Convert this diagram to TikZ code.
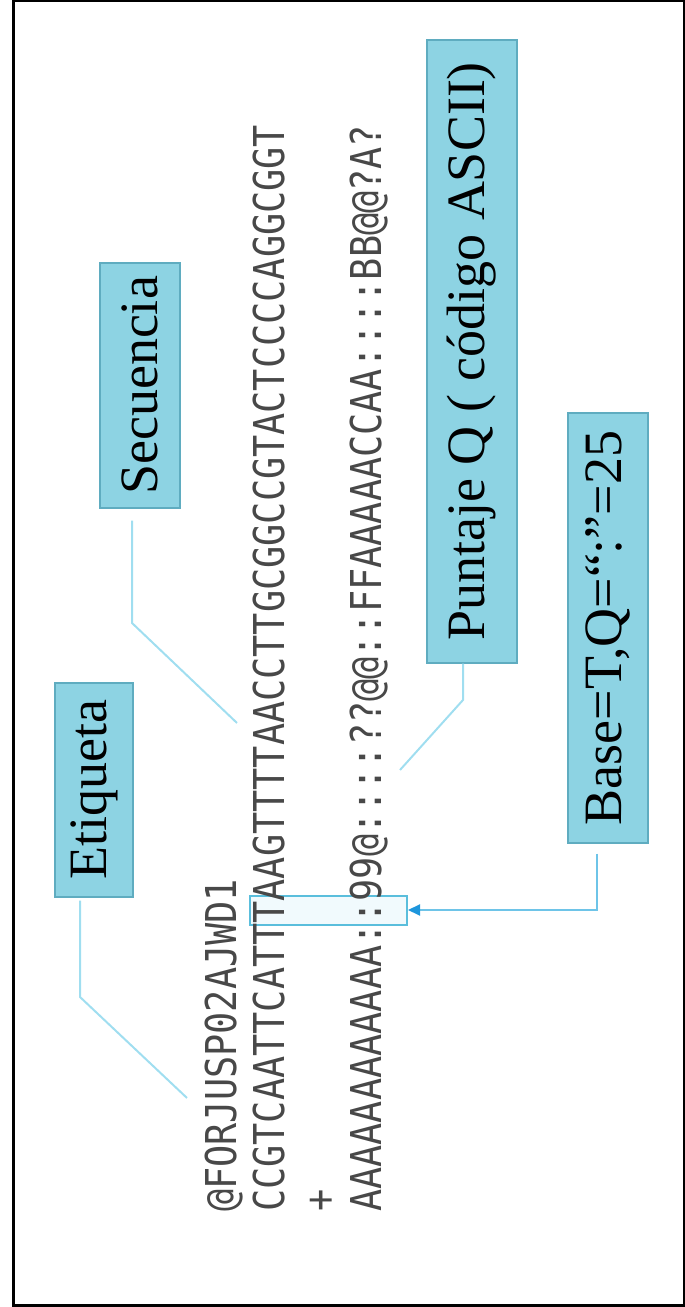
\documentclass[tikz,border=0pt]{standalone}
\usepackage{fontspec}
\setmainfont{Liberation Serif}
\newfontfamily\seqfont{DejaVu Sans Mono}
\usetikzlibrary{calc,arrows.meta}
\definecolor{boxfill}{RGB}{141,211,227}
\definecolor{boxline}{RGB}{95,172,192}
\definecolor{linkcol}{RGB}{160,222,240}
\definecolor{arrowcol}{RGB}{110,196,232}
\definecolor{tipcol}{RGB}{30,150,220}
\definecolor{seqcol}{RGB}{72,72,72}
\definecolor{hlline}{RGB}{90,190,220}
\definecolor{hlfill}{RGB}{215,242,250}
\tikzset{
  labelbox/.style={draw=boxline, line width=1.5pt, fill=boxfill, rotate=90, inner sep=0pt,
    font=\fontsize{54}{60}\selectfont, text=black},
  seqline/.style={rotate=90, anchor=base west, inner sep=0pt, text=seqcol,
    font=\seqfont\fontsize{42.5}{50}\selectfont},
  link/.style={draw=linkcol, line width=2pt},
  arrowlink/.style={draw=arrowcol, line width=2pt, -{Triangle[length=12pt,width=11pt,color=tipcol]}}
}
\newcommand{\sq}[1]{\scalebox{0.867}[1]{#1}}
\begin{document}
\begin{tikzpicture}[x=1pt,y=1pt]
\useasboundingbox (0,0) rectangle (685,1307);
\draw[line width=3pt] (13,1) rectangle (684,1306);
% highlight
\node[draw=hlline, line width=2pt, fill=hlfill, fill opacity=0.35, minimum width=157pt, minimum height=29pt, inner sep=0pt] (hl) at (328.5,396) {};
% sequence lines
\node[seqline] (l1) at (236,95) {\sq{@FORJUSP02AJWD1}};
\node[seqline] (l2) at (284,95) {\sq{CCGTCAATTCATTTAAGTTTTAACCTTGCGGCCGTACTCCCCAGGCGGT}};
\node[seqline] (l3) at (334,95) {\sq{+}};
\node[seqline] (l4) at (381,95) {\sq{AAAAAAAAAAAA::99@::::??@@::FFAAAAACCAA::::BB@@?A?}};
% label boxes
\node[labelbox, minimum width=214pt, minimum height=78pt] (eti) at (94,517) {Etiqueta};
\node[labelbox, minimum width=245pt, minimum height=80pt] (sec) at (140,921.5) {Secuencia};
\node[labelbox, minimum width=623pt, minimum height=90pt] (pun) at (472,955.5) {Puntaje Q ( código ASCII)};
\node[labelbox, minimum width=430pt, minimum height=80pt] (base) at (608,679) {Base=T,Q=“:”=25};
% connectors
\coordinate (e1) at (80,310);
\coordinate (e2) at (187,209);
\draw[link] ($(eti.west)+(-14,-3)$) -- (e1) -- (e2);
\coordinate (s1) at (132,684);
\coordinate (s2) at (237,584);
\draw[link] ($(sec.west)+(-8,-12)$) -- (s1) -- (s2);
\coordinate (p1) at (463,607);
\coordinate (p2) at (400,537);
\draw[link] ($(pun.west)+(-9,0)$) -- (p1) -- (p2);
\coordinate (b1) at (597,397);
\draw[arrowlink] ($(base.west)+(-11,-10)$) -- (b1) -- (hl.east |- b1);
\end{tikzpicture}
\end{document}
